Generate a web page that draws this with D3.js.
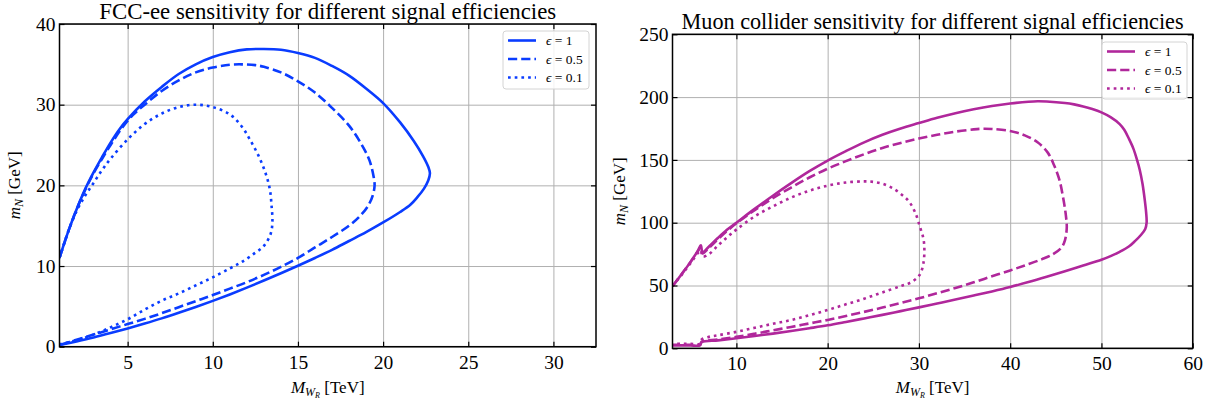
<!DOCTYPE html>
<html>
<head>
<meta charset="utf-8">
<script src="https://cdn.jsdelivr.net/npm/d3@7"></script>
<style>
  html, body { margin: 0; padding: 0; background: #fff; }
  svg { display: block; }
  text { font-family: "Liberation Serif", "DejaVu Serif", serif; fill: #000; }
</style>
</head>
<body>
<svg id="chart" width="1205" height="406"></svg>
<script>
// ---------- data ----------
// Sensitivity contours: points [M_WR (TeV), m_N (GeV)].
const efficiencyLabels = ["ϵ = 1", "ϵ = 0.5", "ϵ = 0.1"];

const fccEps1 = [[1,11],[1.5,14.2],[2,17.0],[2.5,19.5],[3,21.6],[3.5,23.5],[4,25.3],[4.5,26.9],[5,28.2],[6,30.4],[7,32.2],[8,33.8],[9,35.0],[10,35.9],[11,36.5],[12,36.85],[13,36.9],[14,36.8],[15,36.4],[16,35.8],[17,34.8],[18,33.6],[19,32.0],[20,30.2],[21,27.8],[21.8,25.5],[22.35,23.6],[22.65,22.3],[22.75,21.5],[22.65,20.6],[22.4,19.6],[22.0,18.5],[21.6,17.6],[21,16.7],[20,15.4],[19,14.2],[18,13.1],[17,12.0],[16,11.0],[15,10.04],[14,9.11],[13,8.2],[12,7.32],[11,6.48],[10,5.68],[9,4.92],[8,4.2],[7,3.51],[6,2.87],[5,2.26],[4,1.69],[3,1.15],[2,0.66],[1,0.2]];
const fccEps05 = [[1,11],[1.5,14.2],[2,17.0],[2.5,19.4],[3,21.5],[3.5,23.3],[4,25.0],[4.7,27.2],[5.3,28.7],[6,30.0],[7,31.7],[8,33.0],[9,34.0],[10,34.6],[11,34.95],[11.7,35.0],[12.5,34.9],[13,34.7],[14,34.0],[15,32.9],[16,31.5],[17,29.6],[18,27.4],[18.7,25.2],[19.2,23.1],[19.45,21.0],[19.5,20.0],[19.4,18.8],[19.1,17.4],[18.6,16.1],[18,15.0],[17,13.6],[16,12.3],[15,11.0],[14,9.9],[13,8.9],[12,8.0],[11,7.2],[10,6.4],[9,5.65],[8,4.9],[7,4.15],[6,3.45],[5,2.8],[4,2.15],[3,1.5],[2,0.85],[1,0.2]];
const fccEps01 = [[1,11],[1.5,14.2],[2,16.8],[2.5,18.7],[3,20.3],[3.5,21.9],[4,23.3],[5,25.7],[6,27.6],[7,28.9],[8,29.7],[9,30.0],[10,29.7],[11,28.8],[11.7,27.3],[12.2,25.6],[12.7,23.6],[13.1,21.5],[13.35,19.5],[13.45,17.5],[13.5,15.5],[13.4,14.0],[13.0,12.5],[12.4,11.5],[11.7,10.5],[11,9.7],[10,8.6],[9,7.6],[8,6.6],[7,5.7],[6,4.6],[5,3.4],[4,2.4],[3,1.5],[2,0.8],[1,0.3]];

const muEps1 = [[3,49.5],[4,59],[5,69],[5.8,78],[6.1,82],[6.3,76.5],[7,81],[8,88],[9,94.5],[10,100],[12,111],[14,121.5],[16,131.5],[18,141],[20,149.5],[22,157],[24,164],[26,170],[28,175],[30,179.3],[32,183.5],[34,187.2],[36,190.3],[38,192.9],[40,194.9],[42,196.3],[43,196.7],[44,196.5],[46,195.3],[47,194.2],[48,192.6],[49,190.5],[50,187.8],[51,184.0],[52,178.5],[52.5,174],[53,167],[53.5,159],[53.9,150],[54.2,142],[54.5,131],[54.75,118],[54.9,108],[54.95,100],[54.8,95],[54.3,90],[53.7,85.5],[53,81],[52,76.8],[51,73.4],[50,70.5],[48,65.9],[46,61.3],[44,56.9],[42,52.7],[40,48.8],[38,45.3],[36,42.0],[34,38.8],[32,35.7],[30,32.6],[28,29.6],[26,26.6],[24,23.8],[22,21.0],[20,18.3],[18,16.0],[16,13.8],[14,11.7],[12,9.8],[10,8.0],[8,6.3],[6.2,4.8],[6.0,2.3],[5,2.3],[4,2.3],[3,2.3]];
const muEps05 = [[3,49.5],[4,59],[5,69],[5.8,77.5],[6.1,81],[6.3,75.5],[7,80],[8,87],[9,93.5],[10,99.5],[12,110],[14,119.5],[16,128],[18,136],[20,143],[22,149],[24,154.5],[26,159.5],[28,163.5],[30,167],[32,170],[34,172.5],[36,174.3],[37,174.8],[38,174.6],[40,173],[41.6,169.5],[43,164],[44.1,156],[44.8,146],[45.4,134],[45.8,120],[46.1,106],[46.2,96],[46.0,86],[45.6,80],[44.7,75],[43.5,71],[41.6,66],[40,62.0],[38,57.3],[36,52.5],[34,48.0],[32,43.8],[30,39.8],[28,36.0],[26,32.4],[24,29.0],[22,25.7],[20,22.6],[18,19.8],[16,17.0],[14,14.3],[12,11.6],[10,9.1],[8,7.0],[6.2,5.3],[6.0,2.8],[5,2.8],[4,2.8],[3,2.8]];
const muEps01 = [[3,49.5],[4,58.5],[5,68],[5.8,76],[6.1,78],[6.3,73],[7,75],[8,82],[9,88.5],[10,94.5],[12,105],[14,113],[16,120],[18,125.5],[20,129.5],[22,132],[24,132.9],[25,132.5],[26,131],[27,128],[28,123],[28.9,117],[29.6,108],[30.1,97],[30.5,87],[30.6,78],[30.5,68],[30.2,60],[29.8,56],[29,52],[28,49.5],[26,44.5],[24,39.5],[22,35],[20,30.5],[18,26.3],[16,22.5],[14,19.5],[12,16.3],[10,13.1],[8,10.4],[7,9.1],[6.2,7.0],[6.0,3.6],[5,3.6],[4,3.6],[3,3.6]];

const fccXTicks = [5, 10, 15, 20, 25, 30];
const fccYTicks = [0, 10, 20, 30, 40];
const muXTicks = [10, 20, 30, 40, 50, 60];
const muYTicks = [0, 50, 100, 150, 200, 250];

// ---------- panel layout ----------
const panels = [
  {
    title: "FCC-ee sensitivity for different signal efficiencies",
    color: "#0a3cff",
    series: [fccEps1, fccEps05, fccEps01],
    xDomain: [1, 32.5], yDomain: [0, 40],
    xTicks: fccXTicks, yTicks: fccYTicks,
    left: 59.5, right: 596, top: 24, bottom: 346.7,
    titleY: 19, titleSize: 22.8, ylabelX: 20,
    legend: { x: 503, y: 31, w: 86, h: 58 }
  },
  {
    title: "Muon collider sensitivity for different signal efficiencies",
    color: "#b0279b",
    series: [muEps1, muEps05, muEps01],
    xDomain: [3, 60], yDomain: [0, 250],
    xTicks: muXTicks, yTicks: muYTicks,
    left: 672.5, right: 1192.7, top: 34.3, bottom: 348.3,
    titleY: 29, titleSize: 22.2, ylabelX: 625,
    legend: { x: 1102, y: 42, w: 85, h: 57 }
  }
];

const dashes = [null, "9.2,4", "2.7,4"];
const svg = d3.select("#chart");

panels.forEach(p => {
  const x = d3.scaleLinear().domain(p.xDomain).range([p.left, p.right]);
  const y = d3.scaleLinear().domain(p.yDomain).range([p.bottom, p.top]);
  const g = svg.append("g");
  const w = p.right - p.left, h = p.bottom - p.top;

  // grid
  g.append("g").attr("transform", `translate(0,${p.bottom})`)
    .call(d3.axisBottom(x).tickValues(p.xTicks).tickSize(-h).tickFormat(""))
    .call(a => a.select(".domain").remove())
    .call(a => a.selectAll("line").attr("stroke", "#b0b0b0").attr("stroke-width", 1));
  g.append("g").attr("transform", `translate(${p.left},0)`)
    .call(d3.axisLeft(y).tickValues(p.yTicks).tickSize(-w).tickFormat(""))
    .call(a => a.select(".domain").remove())
    .call(a => a.selectAll("line").attr("stroke", "#b0b0b0").attr("stroke-width", 1));

  // curves
  const clipId = "clip" + Math.round(p.left);
  svg.append("clipPath").attr("id", clipId).append("rect")
    .attr("x", p.left).attr("y", p.top).attr("width", w).attr("height", h);
  const line = d3.line().x(d => x(d[0])).y(d => y(d[1])).curve(d3.curveCatmullRom.alpha(0.5));
  p.series.forEach((s, i) => {
    g.append("path").datum(s)
      .attr("clip-path", `url(#${clipId})`)
      .attr("d", line)
      .attr("fill", "none")
      .attr("stroke", p.color)
      .attr("stroke-width", 2.6)
      .attr("stroke-linejoin", "round")
      .attr("stroke-dasharray", dashes[i]);
  });

  // axes with inward ticks on all sides
  const tickStyle = a => {
    a.select(".domain").remove();
    a.selectAll("line").attr("stroke", "#000").attr("stroke-width", 1.2);
    a.selectAll("text").attr("font-size", 19.5).style("font-family", '"Liberation Serif", serif');
  };
  g.append("g").attr("transform", `translate(0,${p.bottom})`)
    .call(d3.axisBottom(x).tickValues(p.xTicks).tickSize(-5).tickPadding(8).tickFormat(d3.format("d")))
    .call(tickStyle);
  g.append("g").attr("transform", `translate(0,${p.top})`)
    .call(d3.axisTop(x).tickValues(p.xTicks).tickSize(-5).tickFormat(""))
    .call(tickStyle);
  g.append("g").attr("transform", `translate(${p.left},0)`)
    .call(d3.axisLeft(y).tickValues(p.yTicks).tickSize(-5).tickPadding(4).tickFormat(d3.format("d")))
    .call(tickStyle);
  g.append("g").attr("transform", `translate(${p.right},0)`)
    .call(d3.axisRight(y).tickValues(p.yTicks).tickSize(-5).tickFormat(""))
    .call(tickStyle);

  // frame
  g.append("rect").attr("x", p.left).attr("y", p.top).attr("width", w).attr("height", h)
    .attr("fill", "none").attr("stroke", "#000").attr("stroke-width", 1.5);

  // title
  g.append("text").attr("x", (p.left + p.right) / 2).attr("y", p.titleY)
    .attr("text-anchor", "middle").attr("font-size", p.titleSize).text(p.title);

  // x label: M_{W_R} [TeV]
  const xl = g.append("text").attr("x", (p.left + p.right) / 2).attr("y", 393)
    .attr("text-anchor", "middle").attr("font-size", 17).attr("fill", "#333");
  xl.append("tspan").attr("font-style", "italic").text("M");
  xl.append("tspan").attr("font-style", "italic").attr("font-size", 12).attr("dy", 3).text("W");
  xl.append("tspan").attr("font-style", "italic").attr("font-size", 8).attr("dy", 2).text("R");
  xl.append("tspan").attr("dy", -5).text(" [TeV]");

  // y label: m_N [GeV]
  const yc = (p.top + p.bottom) / 2;
  const yl = g.append("text").attr("transform", `translate(${p.ylabelX},${yc}) rotate(-90)`)
    .attr("text-anchor", "middle").attr("font-size", 17);
  yl.append("tspan").attr("font-style", "italic").text("m");
  yl.append("tspan").attr("font-style", "italic").attr("font-size", 12).attr("dy", 3).text("N");
  yl.append("tspan").attr("dy", -3).text(" [GeV]");

  // legend
  const L = p.legend;
  const lg = g.append("g");
  lg.append("rect").attr("x", L.x).attr("y", L.y).attr("width", L.w).attr("height", L.h)
    .attr("rx", 3).attr("fill", "#fff").attr("fill-opacity", 0.85)
    .attr("stroke", "#d4d4d4").attr("stroke-width", 1);
  efficiencyLabels.forEach((lab, i) => {
    const ly = L.y + 9.5 + i * 18.5;
    lg.append("line").attr("x1", L.x + 5).attr("x2", L.x + 33).attr("y1", ly).attr("y2", ly)
      .attr("stroke", p.color).attr("stroke-width", 2.6).attr("stroke-dasharray", dashes[i]);
    const t = lg.append("text").attr("x", L.x + 43).attr("y", ly + 4.5).attr("font-size", 13.5);
    t.append("tspan").attr("font-style", "italic").text(lab.slice(0, 1));
    t.append("tspan").text(lab.slice(1));
  });
});
</script>
</body>
</html>
